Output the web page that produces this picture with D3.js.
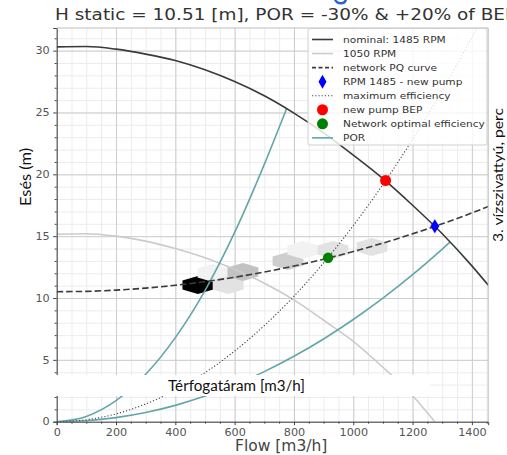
<!DOCTYPE html>
<html><head><meta charset="utf-8">
<script src="https://cdn.jsdelivr.net/npm/d3@7"></script>
<style>
html,body{margin:0;padding:0;background:#fff;}
svg{display:block;overflow:hidden;}
</style></head><body>
<svg id="chart" width="507" height="455"></svg>
<script>
// ---- data ----
// 1485 RPM (nominal) pump curve
const nominalQ = [0,100,200,300,400,500,600,700,800,900,1000,1100,1200,1300,1400,1460];
const nominalH = [30.3,30.33,30.12,29.72,29.2,28.45,27.5,26.35,24.95,23.35,21.55,19.65,17.5,15.2,12.6,10.9];
// 1050 RPM pump curve
const rpm1050Q = [0,100,200,300,400,500,600,700,800,900,1000,1100,1200,1275];
const rpm1050H = [15.15,15.2,15.0,14.6,14.0,13.25,12.3,11.2,9.85,8.2,6.5,4.4,2.1,0];
// network (system) PQ curve, static head 10.51 m
const networkQ = [0,100,200,300,400,500,600,700,800,900,1000,1100,1200,1300,1400,1460];
const networkH = [10.51,10.54,10.64,10.8,11.03,11.32,11.68,12.1,12.59,13.14,13.76,14.44,15.19,16.0,16.88,17.44];
// maximum efficiency parabola
const maxEffQ = [0,100,200,300,400,500,600,700,800,900,1000,1100,1200,1300,1400,1420];
const maxEffH = [0,0.16,0.63,1.43,2.54,3.96,5.71,7.77,10.14,12.84,15.85,19.18,22.82,26.79,31.07,31.96];
// preferred operating region bounds (-30% / +20% of BEP flow)
const porLowQ = [0,100,200,300,400,500,600,700,775];
const porLowH = [0,0.43,1.7,3.83,6.8,10.6,15.3,20.8,25.3];
const porHighQ = [0,100,200,300,400,500,600,700,800,900,1000,1100,1200,1300,1325];
const porHighH = [0,0.08,0.33,0.74,1.32,2.07,2.97,4.05,5.29,6.69,8.26,9.99,11.89,13.96,14.5];
// operating points
const bepPoint = [1109, 19.5];
const newPumpPoint = [1275, 15.8];
const optimumPoint = [915, 13.25];
// measured operating hours, hexbin cells
const hexQ = [476, 527, 578, 628, 780, 830, 932, 1063];
const hexH = [11.05, 12.02, 11.05, 12.1, 13.0, 13.88, 13.88, 14.12];
const hexCount = [20, 2, 4, 7, 6, 2, 4, 4];
// ticks
const xTickValues = [0,200,400,600,800,1000,1200,1400];
const yTickValues = [0,5,10,15,20,25,30];
const legendLabels = ["nominal: 1485 RPM","1050 RPM","network PQ curve","RPM 1485 - new pump",
  "maximum efficiency","new pump BEP","Network optimal efficiency","POR"];

// ---- layout ----
const svg = d3.select("#chart");
const plot = {left: 56.7, right: 488.2, top: 28, bottom: 421.7};
const x = d3.scaleLinear().domain([0, 1455]).range([plot.left, plot.right]);
const y = d3.scaleLinear().domain([0, 31.83]).range([plot.bottom, plot.top]);
const pw = plot.right - plot.left, ph = plot.bottom - plot.top;
const MPL = "DejaVu Sans";
const zip = (a, b) => a.map((v, i) => [v, b[i]]);

// stretch a text element horizontally by factor s
function stretch(sel, s) {
  sel.each(function() {
    const len = this.getComputedTextLength();
    d3.select(this).attr("textLength", len * s).attr("lengthAdjust", "spacingAndGlyphs");
  });
}
function fitTo(sel, w) {
  sel.attr("textLength", w).attr("lengthAdjust", "spacingAndGlyphs");
}

svg.append("defs").append("clipPath").attr("id", "plotClip").append("rect")
  .attr("x", plot.left).attr("y", plot.top).attr("width", pw).attr("height", ph);

// ---- grid ----
const grid = svg.append("g");
const minorX = d3.range(0, 1456, 50), minorY = d3.range(0, 32, 1);
grid.append("g").attr("transform", `translate(0,${plot.bottom})`)
  .call(d3.axisBottom(x).tickValues(minorX).tickSize(-ph).tickFormat(""))
  .call(g => { g.select(".domain").remove(); g.selectAll("line").attr("stroke", "#ececec"); });
grid.append("g").attr("transform", `translate(${plot.left},0)`)
  .call(d3.axisLeft(y).tickValues(minorY).tickSize(-pw).tickFormat(""))
  .call(g => { g.select(".domain").remove(); g.selectAll("line").attr("stroke", "#ececec"); });
grid.append("g").attr("transform", `translate(0,${plot.bottom})`)
  .call(d3.axisBottom(x).tickValues(xTickValues).tickSize(-ph).tickFormat(""))
  .call(g => { g.select(".domain").remove(); g.selectAll("line").attr("stroke", "#cdcdcd"); });
grid.append("g").attr("transform", `translate(${plot.left},0)`)
  .call(d3.axisLeft(y).tickValues(yTickValues).tickSize(-pw).tickFormat(""))
  .call(g => { g.select(".domain").remove(); g.selectAll("line").attr("stroke", "#cdcdcd"); });

// ---- data layer ----
const layer = svg.append("g").attr("clip-path", "url(#plotClip)");

// hexbin cells
const hexW = x(104) - x(0), hexHt = y(0) - y(1.46);
const hexPath = `M0,${-hexHt/2}L${hexW/2},${-hexHt/4}L${hexW/2},${hexHt/4}L0,${hexHt/2}L${-hexW/2},${hexHt/4}L${-hexW/2},${-hexHt/4}Z`;
const grey = d3.scaleSequential(d3.interpolateGreys).domain([0, d3.max(hexCount)]);
layer.append("g").selectAll("path").data(hexQ.map((q, i) => [q, hexH[i], hexCount[i]]))
  .join("path").attr("d", hexPath)
  .attr("transform", d => `translate(${x(d[0])},${y(d[1])})`)
  .attr("fill", d => grey(d[2]));

const line = d3.line().x(d => x(d[0])).y(d => y(d[1])).curve(d3.curveMonotoneX);
const teal = "#62a6a8";

layer.append("path").datum(zip(rpm1050Q, rpm1050H)).attr("d", line)
  .attr("fill", "none").attr("stroke", "#cbcbcb").attr("stroke-width", 1.6);
layer.append("path").datum(zip(porLowQ, porLowH)).attr("d", line)
  .attr("fill", "none").attr("stroke", teal).attr("stroke-width", 1.6);
layer.append("path").datum(zip(porHighQ, porHighH)).attr("d", line)
  .attr("fill", "none").attr("stroke", teal).attr("stroke-width", 1.6);
layer.append("path").datum(zip(maxEffQ, maxEffH)).attr("d", line)
  .attr("fill", "none").attr("stroke", "#444").attr("stroke-width", 1.1).attr("stroke-dasharray", "1.2,2");
layer.append("path").datum(zip(networkQ, networkH)).attr("d", line)
  .attr("fill", "none").attr("stroke", "#3a3a3a").attr("stroke-width", 1.6).attr("stroke-dasharray", "6.5,3");
layer.append("path").datum(zip(nominalQ, nominalH)).attr("d", line)
  .attr("fill", "none").attr("stroke", "#3a3a3a").attr("stroke-width", 1.6);

// operating point markers
const diamond = (cx, cy, hw, hh) => `M${cx},${cy-hh}L${cx+hw},${cy}L${cx},${cy+hh}L${cx-hw},${cy}Z`;
layer.append("circle").attr("cx", x(bepPoint[0])).attr("cy", y(bepPoint[1])).attr("r", 5.5).attr("fill", "#ff0000");
layer.append("circle").attr("cx", x(optimumPoint[0])).attr("cy", y(optimumPoint[1])).attr("r", 5.2).attr("fill", "#008000");
layer.append("path").attr("d", diamond(x(newPumpPoint[0]), y(newPumpPoint[1]), 4.5, 7)).attr("fill", "#0000ff");

// ---- axes ----
const axisColor = "#444";
const xAxis = svg.append("g").attr("transform", `translate(0,${plot.bottom})`)
  .call(d3.axisBottom(x).tickValues(xTickValues).tickFormat(d3.format("d")).tickSize(3.5).tickPadding(3.5));
const yAxis = svg.append("g").attr("transform", `translate(${plot.left},0)`)
  .call(d3.axisLeft(y).tickValues(yTickValues).tickFormat(d3.format("d")).tickSize(3.5).tickPadding(3.5));
svg.append("g").attr("transform", `translate(0,${plot.bottom})`)
  .call(d3.axisBottom(x).tickValues(minorX.filter(v => v % 200)).tickSize(2).tickFormat(""))
  .call(g => g.select(".domain").remove()).selectAll("line").attr("stroke", axisColor);
svg.append("g").attr("transform", `translate(${plot.left},0)`)
  .call(d3.axisLeft(y).tickValues(minorY.filter(v => v % 5)).tickSize(2).tickFormat(""))
  .call(g => g.select(".domain").remove()).selectAll("line").attr("stroke", axisColor);
[xAxis, yAxis].forEach(a => {
  a.select(".domain").attr("stroke", axisColor);
  a.selectAll("line").attr("stroke", axisColor);
  a.selectAll("text").attr("font-family", MPL).attr("font-size", 10).attr("fill", "#555");
  stretch(a.selectAll("text"), 1.12);
});
// top and right frame
svg.append("path").attr("d", `M${plot.left},${plot.top}H${plot.right}V${plot.bottom}`)
  .attr("fill", "none").attr("stroke", "#bdbdbd").attr("stroke-width", 1);

// axis title
svg.append("text").attr("x", x(757)).attr("y", 451).attr("text-anchor", "middle")
  .attr("font-family", MPL).attr("font-size", 15.5).attr("fill", "#444").text("Flow [m3/h]");

// chart title
const title = svg.append("text").attr("x", 55).attr("y", 20)
  .attr("font-family", MPL).attr("font-size", 15.5).attr("fill", "#333")
  .text("H static = 10.51 [m], POR = -30% & +20% of BEP");
stretch(title, 1.19);

// ---- legend ----
const lg = svg.append("g");
lg.append("rect").attr("x", 308).attr("y", 28.5).attr("width", 179).attr("height", 116.5)
  .attr("rx", 2).attr("fill", "#fff").attr("fill-opacity", 0.82).attr("stroke", "#d0d0d0");
const rowY = i => 39.5 + i * 14.05;
const hx0 = 312, hx1 = 333, hxc = 322.5;
lg.append("line").attr("x1", hx0).attr("x2", hx1).attr("y1", rowY(0)).attr("y2", rowY(0)).attr("stroke", "#3a3a3a").attr("stroke-width", 1.6);
lg.append("line").attr("x1", hx0).attr("x2", hx1).attr("y1", rowY(1)).attr("y2", rowY(1)).attr("stroke", "#cbcbcb").attr("stroke-width", 1.6);
lg.append("line").attr("x1", hx0).attr("x2", hx1).attr("y1", rowY(2)).attr("y2", rowY(2)).attr("stroke", "#3a3a3a").attr("stroke-width", 1.6).attr("stroke-dasharray", "4,2.5");
lg.append("path").attr("d", diamond(hxc, rowY(3), 4, 7)).attr("fill", "#0000ff");
lg.append("line").attr("x1", hx0).attr("x2", hx1).attr("y1", rowY(4)).attr("y2", rowY(4)).attr("stroke", "#444").attr("stroke-width", 1.1).attr("stroke-dasharray", "1.2,2");
lg.append("circle").attr("cx", hxc).attr("cy", rowY(5)).attr("r", 5.5).attr("fill", "#ff0000");
lg.append("circle").attr("cx", hxc).attr("cy", rowY(6)).attr("r", 5.5).attr("fill", "#008000");
lg.append("line").attr("x1", hx0).attr("x2", hx1).attr("y1", rowY(7)).attr("y2", rowY(7)).attr("stroke", teal).attr("stroke-width", 1.6);
const lgText = lg.selectAll("text.lbl").data(legendLabels).join("text").attr("class", "lbl")
  .attr("x", 343).attr("y", (d, i) => rowY(i) + 3.4)
  .attr("font-family", MPL).attr("font-size", 9.5).attr("fill", "#333").text(d => d);
stretch(lgText, 1.114);

// ---- annotations ----
svg.append("rect").attr("x", 0).attr("y", 375).attr("width", 430).attr("height", 21).attr("fill", "#fff");
const flowHu = svg.append("text").attr("x", 168).attr("y", 391)
  .attr("font-family", "Lato").attr("font-size", 14.5).attr("fill", "#111").text("Térfogatáram [m3/h]");
fitTo(flowHu, 137);
const headHu = svg.append("text").attr("transform", "translate(31,177) rotate(-90)").attr("text-anchor", "middle")
  .attr("font-family", "Lato").attr("font-size", 14.5).attr("fill", "#111").text("Esés (m)");
fitTo(headHu, 58);
const pumpHu = svg.append("text").attr("transform", "translate(503,175) rotate(-90)").attr("text-anchor", "middle")
  .attr("font-family", "Lato").attr("font-size", 14).attr("fill", "#111").text("3. vízszivattyú, perc");
fitTo(pumpHu, 134);
// blue heading fragment at the top edge
svg.append("path").attr("d", "M334,0 Q336,4.5 341,4.5 Q346,4.5 347,0 L344.5,0 Q343.5,2 341,2 Q337.5,2 336.5,0 Z")
  .attr("fill", "#2a64c8");
</script>
</body></html>
